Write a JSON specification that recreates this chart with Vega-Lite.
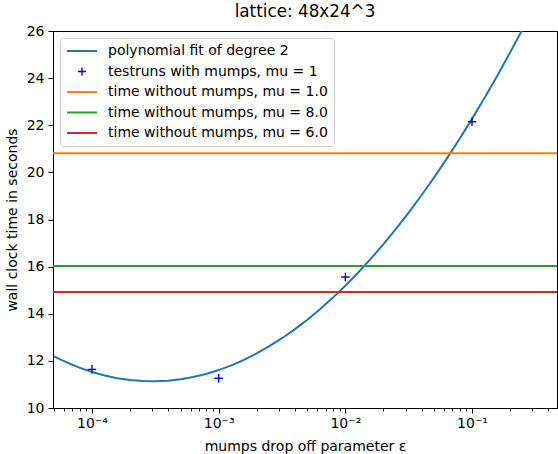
{
  "$schema": "https://vega.github.io/schema/vega-lite/v6.json",
  "width": 504,
  "height": 377,
  "autosize": {"type": "none"},
  "padding": {"left": 53, "top": 31, "right": 1, "bottom": 46},
  "title": {"text": "lattice: 48x24^3", "fontSize": 16.8, "fontWeight": "normal", "font": "DejaVu Sans", "color": "#000", "offset": 3},
  "config": {
    "font": "DejaVu Sans",
    "view": {"stroke": "#000", "strokeWidth": 1},
    "axis": {"domainColor": "#000", "tickColor": "#000", "labelColor": "#000", "titleColor": "#000", "labelFontSize": 14, "titleFontSize": 14, "titleFontWeight": "normal", "grid": false, "tickWidth": 1, "domainWidth": 1}
  },
  "datasets": {
    "fit": [
      {"eps": 5e-5, "time": 12.19, "series": "polynomial fit of degree 2"},
      {"eps": 6.31e-5, "time": 11.934, "series": "polynomial fit of degree 2"},
      {"eps": 7.943e-5, "time": 11.7145, "series": "polynomial fit of degree 2"},
      {"eps": 1e-4, "time": 11.53, "series": "polynomial fit of degree 2"},
      {"eps": 1.259e-4, "time": 11.3805, "series": "polynomial fit of degree 2"},
      {"eps": 1.585e-4, "time": 11.266, "series": "polynomial fit of degree 2"},
      {"eps": 1.995e-4, "time": 11.1865, "series": "polynomial fit of degree 2"},
      {"eps": 2.512e-4, "time": 11.142, "series": "polynomial fit of degree 2"},
      {"eps": 3.162e-4, "time": 11.1325, "series": "polynomial fit of degree 2"},
      {"eps": 3.981e-4, "time": 11.158, "series": "polynomial fit of degree 2"},
      {"eps": 5.012e-4, "time": 11.2185, "series": "polynomial fit of degree 2"},
      {"eps": 6.31e-4, "time": 11.314, "series": "polynomial fit of degree 2"},
      {"eps": 7.943e-4, "time": 11.4445, "series": "polynomial fit of degree 2"},
      {"eps": 1e-3, "time": 11.61, "series": "polynomial fit of degree 2"},
      {"eps": 1.259e-3, "time": 11.8105, "series": "polynomial fit of degree 2"},
      {"eps": 1.585e-3, "time": 12.046, "series": "polynomial fit of degree 2"},
      {"eps": 1.995e-3, "time": 12.3165, "series": "polynomial fit of degree 2"},
      {"eps": 2.512e-3, "time": 12.622, "series": "polynomial fit of degree 2"},
      {"eps": 3.162e-3, "time": 12.9625, "series": "polynomial fit of degree 2"},
      {"eps": 3.981e-3, "time": 13.338, "series": "polynomial fit of degree 2"},
      {"eps": 5.012e-3, "time": 13.7485, "series": "polynomial fit of degree 2"},
      {"eps": 6.31e-3, "time": 14.194, "series": "polynomial fit of degree 2"},
      {"eps": 7.943e-3, "time": 14.6745, "series": "polynomial fit of degree 2"},
      {"eps": 0.01, "time": 15.19, "series": "polynomial fit of degree 2"},
      {"eps": 0.01259, "time": 15.7405, "series": "polynomial fit of degree 2"},
      {"eps": 0.01585, "time": 16.326, "series": "polynomial fit of degree 2"},
      {"eps": 0.01995, "time": 16.9465, "series": "polynomial fit of degree 2"},
      {"eps": 0.02512, "time": 17.602, "series": "polynomial fit of degree 2"},
      {"eps": 0.03162, "time": 18.2925, "series": "polynomial fit of degree 2"},
      {"eps": 0.03981, "time": 19.018, "series": "polynomial fit of degree 2"},
      {"eps": 0.05012, "time": 19.7785, "series": "polynomial fit of degree 2"},
      {"eps": 0.0631, "time": 20.574, "series": "polynomial fit of degree 2"},
      {"eps": 0.07943, "time": 21.4045, "series": "polynomial fit of degree 2"},
      {"eps": 0.1, "time": 22.27, "series": "polynomial fit of degree 2"},
      {"eps": 0.1259, "time": 23.1705, "series": "polynomial fit of degree 2"},
      {"eps": 0.1585, "time": 24.106, "series": "polynomial fit of degree 2"},
      {"eps": 0.1995, "time": 25.0765, "series": "polynomial fit of degree 2"},
      {"eps": 0.2512, "time": 26.082, "series": "polynomial fit of degree 2"}
    ],
    "runs": [
      {"eps": 1e-4, "time": 11.64, "series": "testruns with mumps, mu = 1"},
      {"eps": 1e-3, "time": 11.26, "series": "testruns with mumps, mu = 1"},
      {"eps": 1e-2, "time": 15.56, "series": "testruns with mumps, mu = 1"},
      {"eps": 1e-1, "time": 22.15, "series": "testruns with mumps, mu = 1"}
    ],
    "nomumps": [
      {"time": 20.81, "series": "time without mumps, mu = 1.0"},
      {"time": 16.03, "series": "time without mumps, mu = 8.0"},
      {"time": 14.92, "series": "time without mumps, mu = 6.0"}
    ]
  },
  "layer": [
    {
      "data": {"name": "fit"},
      "mark": {"type": "line", "strokeWidth": 2, "clip": true},
      "encoding": {
        "x": {"field": "eps", "type": "quantitative",
          "scale": {"type": "log", "domain": [4.92e-5, 0.469], "nice": false},
          "title": "mumps drop off parameter ε",
          "axis": {
            "values": [5e-5, 6e-5, 7e-5, 8e-5, 9e-5, 1e-4, 2e-4, 3e-4, 4e-4, 5e-4, 6e-4, 7e-4, 8e-4, 9e-4, 1e-3, 2e-3, 3e-3, 4e-3, 5e-3, 6e-3, 7e-3, 8e-3, 9e-3, 1e-2, 2e-2, 3e-2, 4e-2, 5e-2, 6e-2, 7e-2, 8e-2, 9e-2, 0.1, 0.2, 0.3, 0.4],
            "tickSize": {"expr": "abs(log(datum.value)/LN10 - round(log(datum.value)/LN10)) < 0.001 ? 5 : 3"},
            "labelExpr": "abs(log(datum.value)/LN10 - round(log(datum.value)/LN10)) < 0.001 ? (round(log(datum.value)/LN10) == -4 ? '10⁻⁴' : round(log(datum.value)/LN10) == -3 ? '10⁻³' : round(log(datum.value)/LN10) == -2 ? '10⁻²' : round(log(datum.value)/LN10) == -1 ? '10⁻¹' : '') : ''",
            "labelPadding": 3,
            "titlePadding": 9,
            "labelFlush": false,
            "labelOverlap": false
          }
        },
        "y": {"field": "time", "type": "quantitative",
          "scale": {"domain": [10, 26], "nice": false, "zero": false},
          "title": "wall clock time in seconds",
          "axis": {"values": [10, 12, 14, 16, 18, 20, 22, 24, 26], "tickSize": 5, "labelPadding": 4, "titlePadding": 7}
        },
        "color": {"field": "series", "type": "nominal",
          "scale": {
            "domain": ["polynomial fit of degree 2", "testruns with mumps, mu = 1", "time without mumps, mu = 1.0", "time without mumps, mu = 8.0", "time without mumps, mu = 6.0"],
            "range": ["#1f77b4", "#0000ff", "#ff7f0e", "#2ca02c", "#d62728"]
          },
          "legend": {
            "title": null,
            "orient": "top-left",
            "offset": 7,
            "padding": 6,
            "fillColor": "rgba(255,255,255,0.8)",
            "strokeColor": "#cccccc",
            "cornerRadius": 3,
            "labelFontSize": 14,
            "labelColor": "#000",
            "labelFont": "DejaVu Sans",
            "symbolSize": 100,
            "symbolOffset": 9,
            "labelOffset": 19,
            "rowPadding": 6.5,
            "labelLimit": 400,
            "encode": {
              "symbols": {
                "update": {
                  "shape": {"signal": "datum.value === 'testruns with mumps, mu = 1' ? 'M-0.8,0L0.8,0M0,-0.8L0,0.8' : 'M-3,0L3,0'"},
                  "strokeWidth": {"signal": "datum.value === 'testruns with mumps, mu = 1' ? 1.4 : 2"},
                  "stroke": {"scale": "color", "field": "value"},
                  "fill": {"value": "transparent"},
                  "opacity": {"value": 1}
                }
              }
            }
          }
        }
      }
    },
    {
      "data": {"name": "runs"},
      "mark": {"type": "point", "shape": "M-1,0L1,0M0,-1L0,1", "filled": false, "size": 72, "strokeWidth": 1.4, "opacity": 1},
      "encoding": {
        "x": {"field": "eps", "type": "quantitative"},
        "y": {"field": "time", "type": "quantitative"},
        "color": {"field": "series", "type": "nominal"}
      }
    },
    {
      "data": {"name": "nomumps"},
      "mark": {"type": "rule", "strokeWidth": 2},
      "encoding": {
        "y": {"field": "time", "type": "quantitative"},
        "color": {"field": "series", "type": "nominal"}
      }
    }
  ]
}
